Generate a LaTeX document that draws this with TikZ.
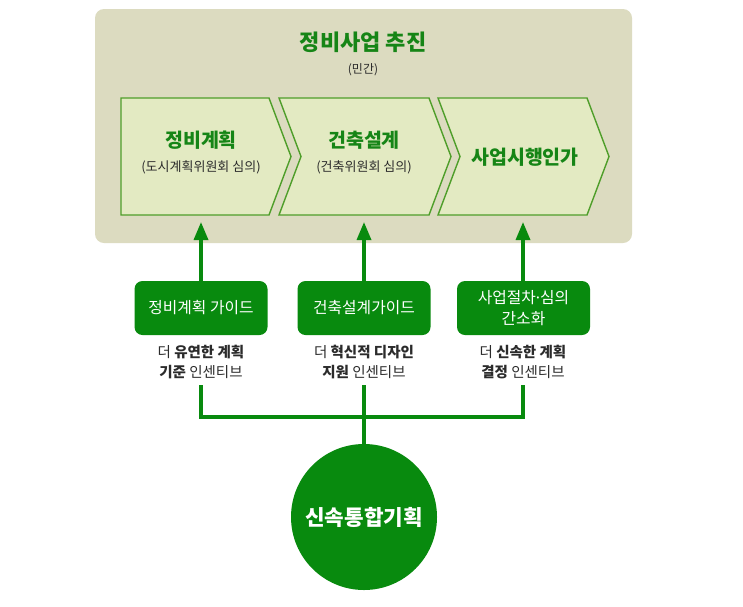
\documentclass[tikz,border=0pt]{standalone}
\usepackage{fontspec}
\setmainfont{Noto Sans CJK KR}
\newfontfamily\latinfont{Noto Sans}
\usetikzlibrary{arrows.meta}
\definecolor{bgbeige}{HTML}{DCDBC0}
\definecolor{chevfill}{HTML}{E3EAC2}
\definecolor{chevline}{HTML}{4F9E2A}
\definecolor{dkgreen}{HTML}{088A0E}
\definecolor{txtgreen}{HTML}{168516}
\definecolor{txtgray}{HTML}{2B2B2B}
\tikzset{
  chev/.style={fill=chevfill, draw=chevline, line width=1.4pt, line join=miter},
  gbox/.style={fill=dkgreen, rounded corners=8pt, minimum width=133pt, minimum height=54pt,
    text=white, font=\fontsize{15.8}{21}\selectfont, align=center, inner sep=0pt},
  lbl/.style={text=txtgray, font=\fontsize{14.5}{19.5}\selectfont, align=center, inner sep=0pt},
  conn/.style={draw=dkgreen, line width=3.3pt},
  upar/.style={conn, -{Triangle[width=14pt,length=18pt]}},
  chtitle/.style={text=txtgreen, font=\fontsize{19.5}{22}\selectfont\bfseries, inner sep=0pt},
  chsub/.style={text=txtgray, font=\fontsize{13}{15}\selectfont, inner sep=0pt}
}
\begin{document}
\begin{tikzpicture}[x=1pt,y=-1pt]
\useasboundingbox[fill=white] (0,0) rectangle (743,606);
% background panel
\fill[bgbeige, rounded corners=9pt] (95,9) rectangle (632,243);
\node[text=txtgreen, font=\fontsize{22}{26}\selectfont\bfseries, inner sep=0pt] (title) at (363,42) {정비사업 추진};
\node[chsub, font=\fontsize{12}{14}\selectfont] (priv) at (363,70) {(민간)};
% chevrons
\draw[chev] (121,98) -- (269,98) -- (291,156.5) -- (269,215) -- (121,215) -- cycle;
\draw[chev] (279,98) -- (429,98) -- (451,156.5) -- (429,215) -- (279,215) -- (301,156.5) -- cycle;
\draw[chev] (438,98) -- (587,98) -- (609,156.5) -- (587,215) -- (438,215) -- (460,156.5) -- cycle;
\node[chtitle] (c1t) at (201,140) {정비계획};
\node[chsub] (c1s) at (201,167) {(도시계획위원회 심의)};
\node[chtitle] (c2t) at (364,140) {건축설계};
\node[chsub] (c2s) at (364,167) {(건축위원회 심의)};
\node[chtitle] (c3t) at (525,157) {사업시행인가};
\coordinate (a1) at (201,222);
\coordinate (a2) at (364,222);
\coordinate (a3) at (523,222);
% green boxes
\node[gbox] (g1) at (201,308) {정비계획 가이드};
\node[gbox] (g2) at (364,308) {건축설계가이드};
\node[gbox] (g3) at (523.5,308) {사업절차{\latinfont ·}심의\\간소화};
\draw[upar] (g1.north -| a1) -- (a1);
\draw[upar] (g2.north -| a2) -- (a2);
\draw[upar] (g3.north -| a3) -- (a3);
% labels
\node[lbl] (l1) at (201,362) {더 \textbf{유연한 계획}\\\textbf{기준} 인센티브};
\node[lbl] (l2) at (364,362) {더 \textbf{혁신적 디자인}\\\textbf{지원} 인센티브};
\node[lbl] (l3) at (523,362) {더 \textbf{신속한 계획}\\\textbf{결정} 인센티브};
% circle
\node[circle, fill=dkgreen, minimum size=146pt, inner sep=0pt, text=white,
  font=\fontsize{21.3}{24}\selectfont\bfseries] (circ) at (364,517) {신속통합기획};
% connectors
\coordinate (t1) at (201,385);
\coordinate (t2) at (364,385);
\coordinate (t3) at (523,385);
\coordinate (j1) at (201,417);
\coordinate (j3) at (523,417);
\draw[conn] (t1) -- (j1) -- (j3) -- (t3);
\draw[conn] (t2) -- (circ.north);
\end{tikzpicture}
\end{document}
